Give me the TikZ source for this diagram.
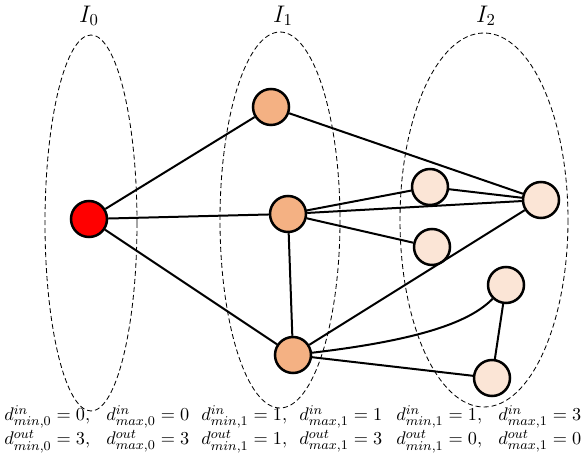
\documentclass[tikz,border=0pt]{standalone}
\usepackage{amsmath}
\usepackage{amssymb}
\usetikzlibrary{positioning}
\definecolor{srcred}{RGB}{255,0,0}
\definecolor{levelone}{RGB}{244,177,131}
\definecolor{leveltwo}{RGB}{251,229,214}
\tikzset{every picture/.style={x=0.6pt,y=-0.6pt},
  vertex/.style={circle,draw,line width=1.5pt,minimum size=21.6pt,inner sep=0pt},
  group/.style={draw,dash pattern=on 3pt off 1.8pt,line width=0.5pt},
  link/.style={line width=1.2pt},
  bound/.style={anchor=north west,inner sep=0pt,align=left,font=\fontsize{11}{13}\selectfont}}

\begin{document}
\begin{tikzpicture}
            \useasboundingbox (0,0) rectangle (581,459);

            % levels
            \draw[group] (91,223) ellipse [x radius=46, y radius=188];
            \draw[group] (280,220) ellipse [x radius=60, y radius=188];
            \draw[group] (484,220) ellipse [x radius=84, y radius=187];
            \node[font=\Large] (l0) at (89,16) {$I_0$};
            \node[font=\Large] (l1) at (283,16) {$I_1$};
            \node[font=\Large] (l2) at (486,16) {$I_2$};

            \node[vertex, fill=srcred] (s) at (89, 219) {};
            \node[vertex, fill=levelone] (u1) at (271, 107) {};
            \node[vertex, fill=levelone] (u2) at (288, 214) {};
            \node[vertex, fill=levelone] (u3) at (293, 355) {};
            \node[vertex, fill=leveltwo] (w1) at (430, 187) {};
            \node[vertex, fill=leveltwo] (w2) at (432, 247) {};
            \node[vertex, fill=leveltwo] (w3) at (541, 200) {};
            \node[vertex, fill=leveltwo] (w4) at (506, 285) {};
            \node[vertex, fill=leveltwo] (w5) at (492, 378) {};

            \foreach \from/\to in {s/u1, s/u2, s/u3, u1/w3, u2/w1, u2/w2, u2/w3, w1/w3, u2/u3, u3/w3, u3/w5, w4/w5}
              \draw[link] (\from) -- (\to);
            \draw[link] (u3) .. controls (420, 340) and (470, 322) .. (w4);

            % degree bounds
            \foreach \x/\nm/\sub/\vin/\vout in {4/a/{min,0}/{0,}/{3,}, 106/b/{max,0}/0/3, 201/c/{min,1}/{1,}/{1,},
                                                299/d/{max,1}/1/3, 396/e/{min,1}/{1,}/{0,}, 498/f/{max,1}/3/0}
              \node[bound] (deg\nm) at (\x, 405) {$d^{in}_{\sub} = \vin$\\$d^{out}_{\sub} = \vout$};
        \end{tikzpicture}
\end{document}
